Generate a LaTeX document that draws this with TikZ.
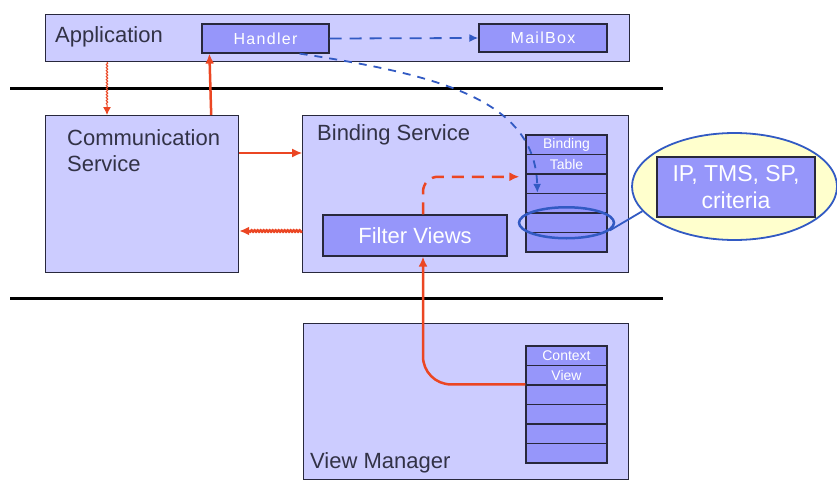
\documentclass[tikz,border=0pt]{standalone}
\usepackage{fontspec}
\setmainfont{Liberation Sans}
\usetikzlibrary{shapes.geometric, arrows.meta, decorations.pathmorphing}
\definecolor{svcFill}{RGB}{204,204,255}
\definecolor{svcInner}{RGB}{150,150,250}
\definecolor{svcLine}{RGB}{40,40,60}
\definecolor{svcText}{RGB}{50,50,70}
\definecolor{msgRed}{RGB}{235,70,35}
\definecolor{msgBlue}{RGB}{50,90,195}
\definecolor{noteYellow}{RGB}{255,255,205}

\begin{document}
\begin{tikzpicture}[x=1pt, y=-1pt,
    layerbox/.style={rectangle, draw=svcLine, fill=svcFill, line width=1.2pt, inner sep=0pt},
    innerbox/.style={rectangle, draw=svcLine, fill=svcInner, line width=1.2pt, inner sep=0pt, text=white},
    cell/.style={innerbox, minimum width=81pt, minimum height=19.5pt, font=\fontsize{14}{14}\selectfont},
    spaced/.style={font=\fontsize{16}{16}\selectfont\addfontfeature{LetterSpace=8}},
    title/.style={anchor=base west, inner sep=0pt, text=svcText, font=\fontsize{22}{26}\selectfont},
    redarrow/.style={-{Latex[length=10pt, width=9pt]}, line width=2pt, color=msgRed},
    bluearrow/.style={-{Latex[length=9pt, width=8pt]}, line width=1.8pt, color=msgBlue, dash pattern=on 12pt off 8pt},
    wiggle/.style={decorate, decoration={snake, amplitude=.7pt, segment length=3pt, post length=9pt}},
    layerline/.style={line width=3pt, black}
]
\useasboundingbox (0,0) rectangle (837,479);

% layer separators
\draw[layerline] (10,88) -- (663,88);
\draw[layerline] (10,298) -- (663,298);

% Application
\node[layerbox, anchor=north west, minimum width=584pt, minimum height=47pt] (app) at (45,14) {};
\node[title] (app-title) at (55,42) {Application};
\node[innerbox, spaced, minimum width=127pt, minimum height=29pt] (handler) at (265.5,38.5) {Handler};
\node[innerbox, spaced, minimum width=128pt, minimum height=28pt] (mailbox) at (543,38) {MailBox};

% Communication Service
\node[layerbox, anchor=north west, minimum width=193pt, minimum height=157pt] (comm) at (45,115) {};
\node[title, anchor=north west, align=left] (comm-title) at (67,129) {Communication\\Service};

% Binding Service
\node[layerbox, anchor=north west, minimum width=326pt, minimum height=157pt] (bind) at (302,115) {};
\node[title] (bind-title) at (317,140) {Binding Service};
\node[innerbox, minimum width=184pt, minimum height=41pt, font=\fontsize{22}{22}\selectfont] (filter) at (415,235.5) {Filter Views};
\foreach \i/\txt in {1/Binding, 2/Table, 3/, 4/, 5/, 6/}
    \node[cell] (bt\i) at (566.5,125.25+19.5*\i) {\txt};

% selected entry and its criteria
\node[ellipse, draw=msgBlue, line width=2.5pt, minimum width=95pt, minimum height=31pt] (ring) at (bt5) {};
\node[ellipse, draw=msgBlue, fill=noteYellow, line width=1.8pt, minimum width=205pt, minimum height=107pt] (critnote) at (734.5,186.5) {};
\node[innerbox, minimum width=158pt, minimum height=60pt, align=center, font=\fontsize{23}{27}\selectfont] (crit) at (736,187) {IP, TMS, SP,\\criteria};
\draw[msgBlue, line width=1.8pt] (ring.-10) -- (critnote.195);

% View Manager
\node[layerbox, anchor=north west, minimum width=325pt, minimum height=156pt] (view) at (303,323) {};
\node[title] (view-title) at (310,468) {View Manager};
\foreach \i/\txt in {1/Context, 2/View, 3/, 4/, 5/, 6/}
    \node[cell] (cv\i) at (566.5,336.25+19.5*\i) {\txt};

% calls between the layers
\draw[redarrow, line width=1pt, -{Latex[length=8pt, width=8pt]}, wiggle] ([xshift=62pt]app.south west) -- ([xshift=62pt]comm.north west);
\draw[redarrow, line width=2.5pt] ([xshift=-28pt]comm.north east) -- ([xshift=8pt]handler.south west);
\draw[redarrow, line width=1.2pt] ([yshift=-38pt]comm.north east) -- ([yshift=-38pt]bind.north west);
\draw[redarrow, line width=2.5pt, wiggle] ([yshift=-116pt]bind.north west) -- ([yshift=-116pt]comm.north east);

% context views through the filter into the table
\draw[redarrow, line width=2.5pt, rounded corners=28pt] (cv3.north west) -| ([xshift=8pt]filter.south);
\draw[redarrow, line width=2.5pt, dash pattern=on 12pt off 8pt, rounded corners=15pt] ([xshift=8pt]filter.north) |- ([xshift=-6pt, yshift=7pt]bt3.west);

% handler messages
\draw[bluearrow] (handler.east) -- (mailbox.west);
\draw[bluearrow, dash pattern=on 8pt off 7pt] ([xshift=-30pt]handler.south east) .. controls (440,75) and (535,100) .. ([xshift=12pt]bt4.north west);
\end{tikzpicture}
\end{document}
